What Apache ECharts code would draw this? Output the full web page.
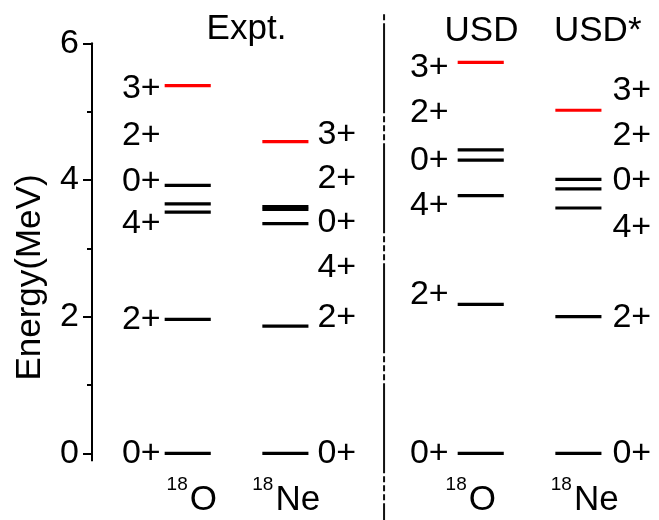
<!DOCTYPE html>
<html>
<head>
<meta charset="utf-8">
<script src="https://cdn.jsdelivr.net/npm/echarts@6/dist/echarts.min.js"></script>
<style>
  html, body { margin: 0; padding: 0; background: #fff; }
  #chart { width: 659px; height: 520px; }
</style>
</head>
<body>
<div id="chart"></div>
<script>
// Low-lying levels of the A = 18 mirror pair: experiment vs. USD / USD* shell model.
// Column slots on the hidden x axis; slot 2 carries the dashed divider.
const columnSlots = [0, 1, 3, 4];
const columnHeads = ['Expt.', 'USD', 'USD*'];
const nuclideMass = ['18', '18', '18', '18'];
const nuclideSymbol = ['O', 'Ne', 'O', 'Ne'];
const labelSide = ['left', 'right', 'left', 'right'];

// Level energies (MeV) and spins, one pair of arrays per column
const expt18O_E = [0, 1.96, 3.53, 3.65, 3.92, 5.38];
const expt18O_J = ['0+', '2+', '4+', '0+', '2+', '3+'];
const expt18Ne_E = [0, 1.86, 3.36, 3.57, 3.61, 4.56];
const expt18Ne_J = ['0+', '2+', '4+', '0+', '2+', '3+'];
const usd18O_E = [0, 2.18, 3.77, 4.29, 4.44, 5.72];
const usd18O_J = ['0+', '2+', '4+', '0+', '2+', '3+'];
const usdStar18Ne_E = [0, 2.00, 3.59, 3.87, 4.01, 5.02];
const usdStar18Ne_J = ['0+', '2+', '4+', '0+', '2+', '3+'];

// Energies at which the spin labels are written (spread apart to stay legible)
const expt18O_labelE = [0, 1.96, 3.36, 3.98, 4.65, 5.34];
const expt18Ne_labelE = [0, 1.99, 2.72, 3.38, 4.02, 4.67];
const usd18O_labelE = [0, 2.32, 3.63, 4.29, 4.98, 5.64];
const usdStar18Ne_labelE = [0, 1.98, 3.30, 3.99, 4.65, 5.31];

// Y axis ticks
const yMin = 0, yMax = 6, yStep = 2;

const energiesByColumn = [expt18O_E, expt18Ne_E, usd18O_E, usdStar18Ne_E];
const spinsByColumn = [expt18O_J, expt18Ne_J, usd18O_J, usdStar18Ne_J];
const labelEByColumn = [expt18O_labelE, expt18Ne_labelE, usd18O_labelE, usdStar18Ne_labelE];

// ---- styling / layout ----
const FONT = "'Liberation Sans', Arial, Helvetica, sans-serif";
const FS = 34;
const HALF = 0.236;              // half length of a level bar in slot units
const labelGap = [4, 9, 9, 11];  // px between bar end and its spin label
const nuclideShift = [1, -11, -13, -5.5]; // px, split point of mass/symbol from slot centre
const RED = '#ff0000';

const levelData = [];
const levelColor = [];
const labelData = [];
const labelText = [];
const labelCol = [];
energiesByColumn.forEach((arr, c) => {
  arr.forEach((e, i) => {
    levelData.push([columnSlots[c], e]);
    levelColor.push(spinsByColumn[c][i] === '3+' ? RED : '#000');
    labelData.push([columnSlots[c], labelEByColumn[c][i]]);
    labelText.push(spinsByColumn[c][i]);
    labelCol.push(c);
  });
});

const chart = echarts.init(document.getElementById('chart'), null, { renderer: 'canvas' });

const option = {
  animation: false,
  backgroundColor: '#fff',
  grid: { left: 92, right: 22, top: 43.3, bottom: 66.7, containLabel: false },
  xAxis: { type: 'value', min: -0.98, max: 4.6, show: false },
  yAxis: {
    type: 'value', min: yMin, max: yMax, interval: yStep,
    axisLine: { show: true, onZero: false, lineStyle: { color: '#000', width: 2 } },
    axisTick: { show: true, length: 9, lineStyle: { color: '#000', width: 2 } },
    minorTick: { show: true, splitNumber: 2, length: 5, lineStyle: { color: '#000', width: 2 } },
    axisLabel: { margin: 13, fontSize: FS, color: '#000', fontFamily: FONT },
    splitLine: { show: false }
  },
  series: [
    {
      // level bars
      type: 'custom', clip: false, silent: true,
      data: levelData,
      renderItem: (params, api) => {
        const x = api.value(0), e = api.value(1);
        const a = api.coord([x - HALF, e]);
        const b = api.coord([x + HALF, e]);
        return {
          type: 'line',
          shape: { x1: a[0], y1: a[1], x2: b[0], y2: b[1] },
          style: { stroke: levelColor[params.dataIndex], lineWidth: 3.2, lineCap: 'butt' }
        };
      }
    },
    {
      // spin labels beside the bars
      type: 'custom', clip: false, silent: true,
      data: labelData,
      renderItem: (params, api) => {
        const i = params.dataIndex;
        const c = labelCol[i];
        const side = labelSide[c];
        const x = api.value(0), e = api.value(1);
        const p = api.coord([side === 'left' ? x - HALF : x + HALF, e]);
        return {
          type: 'text',
          style: {
            text: labelText[i],
            x: side === 'left' ? p[0] - labelGap[c] : p[0] + labelGap[c],
            y: p[1],
            align: side === 'left' ? 'right' : 'left',
            verticalAlign: 'middle',
            font: FS + 'px ' + FONT,
            fill: '#000'
          }
        };
      }
    },
    {
      // nuclide names under each column, mass number raised
      type: 'custom', clip: false, silent: true,
      data: columnSlots.map(s => [s, 0]),
      renderItem: (params, api) => {
        const c = params.dataIndex;
        const p = api.coord([api.value(0), 0]);
        const xs = p[0] + nuclideShift[c];
        return {
          type: 'group',
          children: [
            { type: 'text', style: { text: nuclideMass[c], x: xs - 1, y: p[1] + 31.5,
                align: 'right', verticalAlign: 'middle', font: '19px ' + FONT, fill: '#000' } },
            { type: 'text', style: { text: nuclideSymbol[c], x: xs + 1, y: p[1] + 47.5,
                align: 'left', verticalAlign: 'middle', font: '35px ' + FONT, fill: '#000' } }
          ]
        };
      }
    },
    {
      // dashed divider between experiment and theory, plus the axis stub below zero
      type: 'custom', clip: false, silent: true,
      data: [[2, 0]],
      renderItem: (params, api) => {
        const p = api.coord([api.value(0), 0]);
        const cs = params.coordSys;
        const ax = api.coord([-0.98, 0]);
        return {
          type: 'group',
          children: [
            { type: 'line', shape: { x1: p[0] + 1, y1: cs.y - 29, x2: p[0] + 1, y2: 520 },
              style: { stroke: '#111', lineWidth: 2, lineDash: [6, 3, 90, 3, 6, 3, 6, 3] } },
            { type: 'line', shape: { x1: ax[0], y1: ax[1], x2: ax[0], y2: ax[1] + 8 },
              style: { stroke: '#000', lineWidth: 2 } }
          ]
        };
      }
    }
  ],
  graphic: [
    { type: 'text', x: 246.5, y: 29, style: { text: columnHeads[0], font: '35px ' + FONT, fill: '#000', align: 'center', verticalAlign: 'middle' } },
    { type: 'text', x: 481.5, y: 31.5, style: { text: columnHeads[1], font: '35px ' + FONT, fill: '#000', align: 'center', verticalAlign: 'middle' } },
    { type: 'text', x: 554, y: 31.5, style: { text: columnHeads[2], font: '35px ' + FONT, fill: '#000', align: 'left', verticalAlign: 'middle' } },
    { type: 'text', x: 30, y: 277.5, rotation: Math.PI / 2, style: { text: 'Energy(MeV)', font: '35px ' + FONT, fill: '#000', align: 'center', verticalAlign: 'middle' } }
  ]
};

chart.setOption(option);
</script>
</body>
</html>
